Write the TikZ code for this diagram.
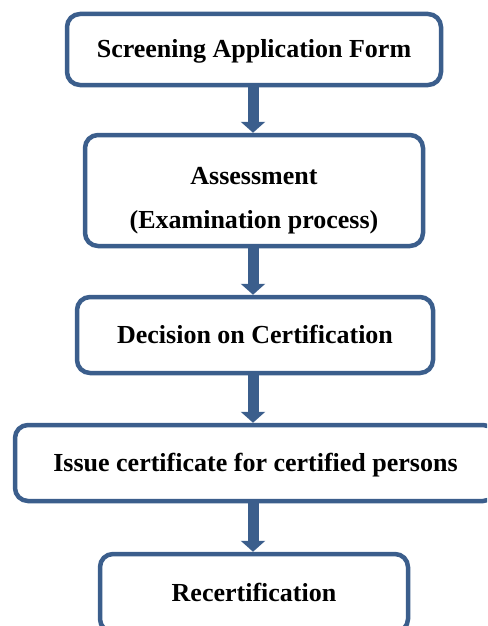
\documentclass[tikz,border=0pt]{standalone}
\usepackage{fontspec}
\setmainfont{Liberation Serif}
\usetikzlibrary{arrows.meta}
\definecolor{frameblue}{RGB}{59,94,140}
\tikzset{
  stepbox/.style={draw=frameblue, line width=4.5pt, rounded corners=13pt, fill=white,
    align=center, inner sep=0pt, font=\fontsize{26}{44}\selectfont\bfseries},
  oneline/.style={text height=17pt, text depth=0pt},
  flowarrow/.style={draw=frameblue, line width=11pt, -{Triangle[width=24pt,length=11pt]}}
}
\begin{document}
\begin{tikzpicture}[x=1pt,y=1pt]
\useasboundingbox (0,0) rectangle (487,-626);
\clip (0,0) rectangle (487,-626);
\node[stepbox, oneline, minimum width=374pt, minimum height=71pt] (b1) at (254,-49.5) {Screening Application Form};
\node[stepbox, minimum width=338pt, minimum height=111pt] (b2) at (254,-190.5) {\rule{0pt}{38pt}Assessment\\(Examination process)};
\node[stepbox, oneline, minimum width=356pt, minimum height=76pt] (b3) at (255,-335) {Decision on Certification};
\node[stepbox, oneline, minimum width=481pt, minimum height=76pt] (b4) at (255.5,-463) {Issue certificate for certified persons};
\node[stepbox, oneline, minimum width=308pt, minimum height=78pt] (b5) at (254,-593) {Recertification};
\draw[flowarrow] (b1.south -| 253,0) -- (b2.north -| 253,0);
\draw[flowarrow] (b2.south -| 253,0) -- (b3.north -| 253,0);
\draw[flowarrow] (b3.south -| 253,0) -- (b4.north -| 253,0);
\draw[flowarrow] (b4.south -| 253,0) -- (b5.north -| 253,0);
\end{tikzpicture}
\end{document}
